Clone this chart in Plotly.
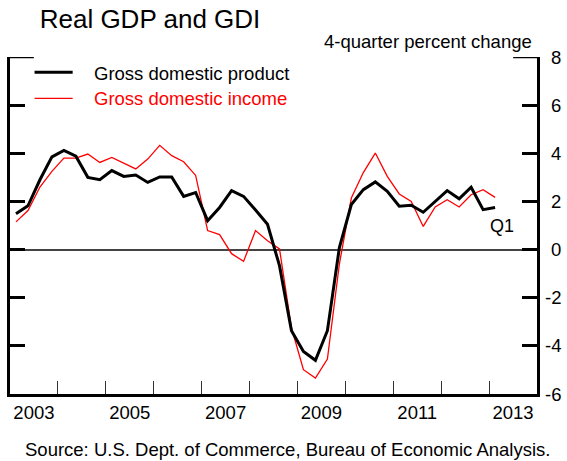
import plotly.graph_objects as go

# Quarterly data, 2003Q1 .. 2013Q1 (4-quarter percent change)
start_year = 2003
quarter_labels = [f"{start_year + i // 4}Q{i % 4 + 1}" for i in range(41)]

gdp = [1.49, 1.82, 2.90, 3.85, 4.12, 3.88, 3.00, 2.90, 3.28, 3.04,
       3.10, 2.79, 3.02, 3.02, 2.21, 2.37, 1.20, 1.75, 2.45, 2.21,
       1.64, 1.05, -0.67, -3.37, -4.23, -4.60, -3.37, 0.08, 1.87, 2.49,
       2.81, 2.42, 1.80, 1.84, 1.55, 2.00, 2.45, 2.11, 2.59, 1.66,
       1.75]

gdi = [1.15, 1.62, 2.60, 3.25, 3.80, 3.80, 3.97, 3.62, 3.83, 3.60,
       3.35, 3.76, 4.33, 3.90, 3.65, 3.08, 0.79, 0.62, -0.17, -0.49,
       0.79, 0.37, 0.03, -3.25, -4.99, -5.34, -4.55, -0.60, 2.14, 3.20,
       4.01, 3.04, 2.31, 2.00, 0.96, 1.77, 2.07, 1.77, 2.28, 2.49,
       2.17]

year_label_years = [2003, 2005, 2007, 2009, 2011, 2013]
year_boundaries = list(range(2004, 2014))
y_ticks = [-6, -4, -2, 0, 2, 4, 6, 8]
y_tick_text = ["-6", "-4", "-2", "0", "2", "4", "6", "8"]


def q_to_x(label):
    y, q = label.split("Q")
    return int(y) + (int(q) - 0.5) / 4


xq = [q_to_x(s) for s in quarter_labels]

FONT = "Liberation Sans, Arial, sans-serif"
FS = 18.5

fig = go.Figure()
fig.add_trace(go.Scatter(x=xq, y=gdi, mode="lines", name="Gross domestic income",
                         line=dict(color="#ff0000", width=1.3), hoverinfo="skip"))
fig.add_trace(go.Scatter(x=xq, y=gdp, mode="lines", name="Gross domestic product",
                         line=dict(color="black", width=3), hoverinfo="skip"))

fig.update_layout(
    width=567, height=461,
    margin=dict(l=7, r=30, t=57, b=67),
    plot_bgcolor="white", paper_bgcolor="white",
    showlegend=False,
    font=dict(family=FONT, size=FS, color="black"),
    title=dict(text="Real GDP and GDI", x=150 / 567, y=1 - 19 / 461,
               xanchor="center", yanchor="middle",
               font=dict(family=FONT, size=26, color="black")),
    xaxis=dict(
        range=[2003, 2014],
        tickmode="array",
        tickvals=[y + 0.5 for y in year_label_years],
        ticktext=[str(y) for y in year_label_years],
        ticks="",
        showline=True, linecolor="black", linewidth=2.5,
        showgrid=False, zeroline=False,
        tickfont=dict(size=FS),
        minor=dict(tickmode="array", tickvals=year_boundaries, ticks="inside",
                   ticklen=13, tickcolor="#333", tickwidth=1, showgrid=False),
    ),
    yaxis=dict(
        side="right",
        range=[-6, 8],
        tickmode="array", tickvals=y_ticks,
        showticklabels=False,
        ticks="inside", ticklen=15, tickwidth=2.5, tickcolor="black",
        showline=True, linecolor="black", linewidth=2.5, mirror="ticks",
        showgrid=False,
        zeroline=True, zerolinecolor="#444", zerolinewidth=1.5,
    ),
)

# right-aligned tick labels of the value axis
for v, t in zip(y_ticks, y_tick_text):
    fig.add_annotation(text=t, xref="paper", yref="y", x=(563 - 7) / 530, y=v,
                       xanchor="right", yanchor="middle", showarrow=False,
                       font=dict(family=FONT, size=FS, color="black"))

# longer caps at the top of both vertical axes
cap = 24 / 530
fig.add_shape(type="line", xref="paper", yref="y", x0=0, x1=cap, y0=8, y1=8,
              line=dict(color="black", width=2.5))
fig.add_shape(type="line", xref="paper", yref="y", x0=1 - cap, x1=1, y0=8, y1=8,
              line=dict(color="black", width=2.5))

# legend drawn manually
legend_items = [("Gross domestic product", "black", 3, 0.9546, 0.9496),
                ("Gross domestic income", "#ff0000", 1.3, 0.8774, 0.8754)]
for text, color, w, ly, ty in legend_items:
    fig.add_shape(type="line", xref="paper", yref="paper",
                  x0=0.0466, x1=0.1189, y0=ly, y1=ly,
                  line=dict(color=color, width=w))
    fig.add_annotation(text=text, xref="paper", yref="paper", x=0.1553, y=ty,
                       xanchor="left", yanchor="middle", showarrow=False,
                       font=dict(family=FONT, size=FS, color=color))

fig.add_annotation(text="4-quarter percent change", xref="paper", yref="paper",
                   x=(534 - 7) / 530, y=(394 - 42) / 337, xanchor="right",
                   yanchor="middle", showarrow=False,
                   font=dict(family=FONT, size=FS, color="black"))

fig.add_annotation(text="Q1", x=xq[-1], y=gdp[-1], xref="x", yref="y",
                   xshift=7, yshift=-19, showarrow=False,
                   font=dict(family=FONT, size=18, color="black"))

fig.add_annotation(text="Source: U.S. Dept. of Commerce, Bureau of Economic Analysis.",
                   xref="paper", yref="paper", x=(20 - 7) / 530, y=(394 - 449) / 337,
                   xanchor="left", yanchor="middle", showarrow=False,
                   font=dict(family=FONT, size=FS, color="black"))

fig.write_html(
    "out.html",
    config={"displayModeBar": False},
    post_script="document.body.style.margin='0';document.body.style.overflow='hidden';",
)
